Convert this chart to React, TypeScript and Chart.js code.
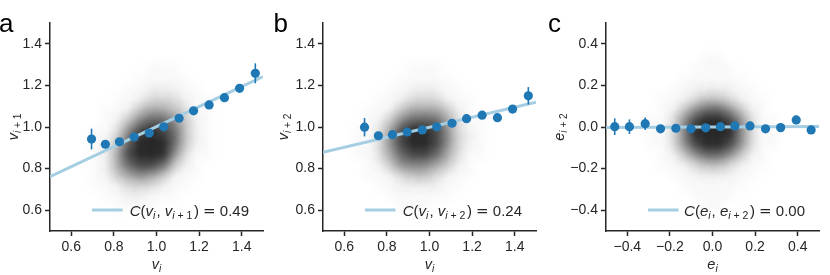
import React, { useEffect, useRef } from 'react';
import { Chart, registerables } from 'chart.js';
Chart.register(...registerables);

// ---------------- data ----------------
const vTicks = [0.6, 0.8, 1.0, 1.2, 1.4];
const eTicks = [-0.4, -0.2, 0.0, 0.2, 0.4];

// binned means (panels a, b share the same v bins)
const vBins = [0.695, 0.76, 0.826, 0.895, 0.966, 1.034, 1.106, 1.174, 1.247, 1.319, 1.39, 1.464];
const meanA = [0.942, 0.917, 0.929, 0.952, 0.971, 1.001, 1.042, 1.078, 1.106, 1.141, 1.186, 1.258];
const errA = [0.05, 0.012, 0.008, 0.006, 0.006, 0.006, 0.007, 0.009, 0.011, 0.014, 0.018, 0.048];
const fitA = [0.761, 1.242]; // fit line at x = 0.5 and x = 1.5

const meanB = [0.999, 0.958, 0.963, 0.976, 0.986, 1.001, 1.018, 1.04, 1.057, 1.045, 1.086, 1.15];
const errB = [0.044, 0.012, 0.008, 0.006, 0.006, 0.006, 0.007, 0.009, 0.011, 0.014, 0.018, 0.042];
const fitB = [0.878, 1.119];

const eBins = [-0.459, -0.39, -0.316, -0.244, -0.172, -0.101, -0.032, 0.037, 0.105, 0.176, 0.249, 0.32, 0.393, 0.463];
const meanC = [0.0015, 0.0015, 0.016, -0.009, -0.006, -0.009, -0.004, 0.0015, 0.005, 0.005, -0.009, -0.003, 0.034, -0.014];
const errC = [0.04, 0.035, 0.03, 0.01, 0.008, 0.006, 0.005, 0.005, 0.006, 0.008, 0.01, 0.012, 0.02, 0.012];
const fitC = [-0.002, 0.002];

// density of the grey scatter cloud, 0 (empty) .. 9 (black), cells of 0.05
const cloudCell = 0.05;
const cloudA_x0 = 0.625, cloudA_y0 = 1.275;
const cloudA = [
  '000000011100000',
  '000000111110000',
  '000001122211000',
  '000011233321100',
  '000112455431100',
  '000124677642100',
  '001136898742100',
  '001247999742100',
  '001258999631100',
  '001257887421000',
  '001245654211000',
  '001123332110000',
  '000112211100000',
  '000011110000000',
];
const cloudB_x0 = 0.625, cloudB_y0 = 1.275;
const cloudB = [
  '000000111000000',
  '000001111100000',
  '000011222110000',
  '000112333211000',
  '001124555421000',
  '001246777531100',
  '011358998632100',
  '011368998632100',
  '011357887531100',
  '001246665421000',
  '001123443211000',
  '000112222110000',
  '000011111100000',
  '000001110000000',
];
const cloudC_x0 = -0.325, cloudC_y0 = 0.325;
const cloudC = [
  '00000011000000',
  '00000111100000',
  '00001111110000',
  '00011222211000',
  '00112344321100',
  '00124677642100',
  '01136899863110',
  '01136999963110',
  '01136899863110',
  '00124677642100',
  '00112344321100',
  '00011222211000',
  '00001111110000',
  '00000111100000',
  '00000011000000',
];

// ---------------- styles ----------------
const BLUE = '#1f77b4';
const LIGHT = '#a6cee3';
const INK = '#262626';
const FONT = '"Liberation Sans", Arial, sans-serif';
const LEVEL_ALPHA = [0, 0.02, 0.045, 0.085, 0.135, 0.195, 0.27, 0.37, 0.49, 0.63];

type Seg = { t: string; it?: boolean; sub?: boolean; f?: string; gap?: number };

function segFont(s: Seg, size: number) {
  const sz = s.sub ? size * 0.7 : size;
  return `${s.it ? 'italic ' : ''}${sz}px ${s.f ?? FONT}`;
}
function richWidth(ctx: CanvasRenderingContext2D, segs: Seg[], size: number) {
  let w = 0;
  for (const s of segs) {
    ctx.font = segFont(s, size);
    w += ctx.measureText(s.t).width + (s.gap ?? 0);
  }
  return w;
}
function drawRich(ctx: CanvasRenderingContext2D, segs: Seg[], x: number, y: number, size: number, align: 'left' | 'center' | 'right') {
  const w = richWidth(ctx, segs, size);
  let cx = align === 'left' ? x : align === 'center' ? x - w / 2 : x - w;
  ctx.textAlign = 'left';
  ctx.textBaseline = 'alphabetic';
  for (const s of segs) {
    ctx.font = segFont(s, size);
    ctx.fillText(s.t, cx, y + (s.sub ? size * 0.22 : 0));
    cx += ctx.measureText(s.t).width + (s.gap ?? 0);
  }
  return w;
}

function makeSprite(alpha: number) {
  const R = 18;
  const c = document.createElement('canvas');
  c.width = 2 * R;
  c.height = 2 * R;
  const g = c.getContext('2d')!;
  const grad = g.createRadialGradient(R, R, 0, R, R, R);
  const stops = [0, 0.125, 0.25, 0.375, 0.5, 0.625, 0.75, 0.875, 1];
  for (const s of stops) {
    const r = s * R;
    const k = Math.exp(-(r * r) / (2 * 7.5 * 7.5)) * (1 - s * s * s);
    grad.addColorStop(s, `rgba(0,0,0,${alpha * k})`);
  }
  g.fillStyle = grad;
  g.fillRect(0, 0, 2 * R, 2 * R);
  return c;
}

const fmt = (v: number) => (v < -1e-9 ? '\u2212' : '') + Math.abs(v).toFixed(1);

const v = (s: string): Seg[] => [{ t: 'v', it: true }, { t: s, it: true, sub: true }];

type PanelCfg = {
  letter: string;
  canvasLeft: number;
  yW: number;
  xs: number[];
  ys: number[];
  errs: number[];
  fit: number[];
  range: [number, number];
  ticks: number[];
  cloud: string[];
  cx0: number;
  cy0: number;
  letterX: number;
  yTitleOffset: number;
  xTitle: Seg[];
  yTitle: Seg[];
  legend: Seg[];
};

const PLOT_W = 213;
const RIGHT_PAD = 6;
const H = 275;

function Panel({ cfg }: { cfg: PanelCfg }) {
  const ref = useRef<HTMLCanvasElement>(null);
  const width = cfg.yW + PLOT_W + RIGHT_PAD;
  useEffect(() => {
    const canvas = ref.current!;
    const sprites = LEVEL_ALPHA.map((a) => makeSprite(a));
    const cloudPts: any[] = [];
    cfg.cloud.forEach((row, r) => {
      for (let c = 0; c < row.length; c++) {
        const lv = +row[c];
        if (lv > 0) cloudPts.push({ x: cfg.cx0 + c * cloudCell, y: cfg.cy0 - r * cloudCell, level: lv });
      }
    });

    const deco = {
      id: 'deco',
      beforeDatasetDraw(chart: any, args: any) {
        if (args.index !== 0) return;
        const ctx: CanvasRenderingContext2D = chart.ctx;
        const xs = chart.scales.x, ys = chart.scales.y;
        ctx.save();
        ctx.strokeStyle = BLUE;
        ctx.lineWidth = 1.6;
        cfg.xs.forEach((x, i) => {
          const px = xs.getPixelForValue(x);
          ctx.beginPath();
          ctx.moveTo(px, ys.getPixelForValue(cfg.ys[i] - cfg.errs[i]));
          ctx.lineTo(px, ys.getPixelForValue(cfg.ys[i] + cfg.errs[i]));
          ctx.stroke();
        });
        ctx.restore();
      },
      afterDraw(chart: any) {
        const ctx: CanvasRenderingContext2D = chart.ctx;
        const a = chart.chartArea;
        ctx.save();
        ctx.fillStyle = '#000';
        ctx.font = `26px ${FONT}`;
        ctx.textAlign = 'left';
        ctx.textBaseline = 'alphabetic';
        ctx.fillText(cfg.letter, cfg.letterX - cfg.canvasLeft, 32);

        ctx.fillStyle = INK;
        drawRich(ctx, cfg.xTitle, (a.left + a.right) / 2, 268.5, 14.5, 'center');

        ctx.save();
        ctx.translate(a.left - cfg.yTitleOffset, (a.top + a.bottom) / 2);
        ctx.rotate(-Math.PI / 2);
        drawRich(ctx, cfg.yTitle, 0, 0, 14.5, 'center');
        ctx.restore();

        // legend
        ctx.strokeStyle = LIGHT;
        ctx.lineWidth = 3;
        ctx.beginPath();
        ctx.moveTo(a.right - 171, 210);
        ctx.lineTo(a.right - 140.5, 210);
        ctx.stroke();
        ctx.fillStyle = INK;
        drawRich(ctx, cfg.legend, a.right - 14, 216, 15, 'right');
        ctx.restore();
      },
    };

    const axisCommon = (ticks: number[], range: [number, number]) => ({
      type: 'linear' as const,
      min: range[0],
      max: range[1],
      afterBuildTicks: (s: any) => {
        s.ticks = ticks.map((t) => ({ value: t }));
      },
      grid: {
        display: true,
        drawOnChartArea: false,
        drawTicks: true,
        tickLength: 5,
        tickWidth: 1.5,
        tickColor: INK,
      },
      border: { display: true, color: INK, width: 1.5 },
      ticks: {
        color: INK,
        font: { family: '"Liberation Sans", Arial, sans-serif', size: 14 },
        padding: 3,
        maxRotation: 0,
        autoSkip: false,
        callback: (val: any) => fmt(Number(val)),
      },
    });

    const chart = new Chart(canvas, {
      type: 'scatter',
      data: {
        datasets: [
          {
            data: cfg.xs.map((x, i) => ({ x, y: cfg.ys[i] })),
            pointRadius: 4.6,
            backgroundColor: BLUE,
            borderWidth: 0,
            order: 0,
          } as any,
          {
            data: [
              { x: cfg.range[0], y: cfg.fit[0] },
              { x: cfg.range[1], y: cfg.fit[1] },
            ],
            showLine: true,
            borderColor: LIGHT,
            borderWidth: 3,
            pointRadius: 0,
            order: 1,
          } as any,
          {
            data: cloudPts,
            pointRadius: 1,
            borderWidth: 0,
            backgroundColor: 'rgba(0,0,0,0)',
            pointStyle: (c: any) => (c.raw && c.raw.level ? sprites[c.raw.level] : 'circle'),
            order: 2,
          } as any,
        ],
      },
      options: {
        responsive: false,
        animation: false,
        events: [],
        layout: { padding: { left: 0, right: RIGHT_PAD, top: 23, bottom: 0 } },
        plugins: { legend: { display: false }, tooltip: { enabled: false } },
        scales: {
          x: { ...axisCommon(cfg.ticks, cfg.range), position: 'bottom', afterFit: (s: any) => { s.height = H - 231; } } as any,
          y: { ...axisCommon(cfg.ticks, cfg.range), position: 'left', afterFit: (s: any) => { s.width = cfg.yW; } } as any,
        },
      },
      plugins: [deco],
    });
    return () => chart.destroy();
  }, []);
  return (
    <canvas
      ref={ref}
      width={width}
      height={H}
      style={{ position: 'absolute', left: cfg.canvasLeft, top: 0, width, height: H }}
    />
  );
}

const legendSegs = (a: Seg[], b: Seg[], val: string): Seg[] => [
  { t: 'C', it: true },
  { t: '(' },
  ...a,
  { t: ', ' },
  ...b,
  { t: ')', gap: 0 },
  { t: ' ' },
  { t: '=', f: '"DejaVu Sans", sans-serif' },
  { t: ' ' },
  { t: val },
];

const panels: PanelCfg[] = [
  {
    letter: 'a', canvasLeft: 0, yW: 50, xs: vBins, ys: meanA, errs: errA, fit: fitA,
    range: [0.5, 1.5], ticks: vTicks, cloud: cloudA, cx0: cloudA_x0, cy0: cloudA_y0,
    letterX: -1, yTitleOffset: 32,
    xTitle: v('i'),
    yTitle: [{ t: 'v', it: true }, { t: 'i', it: true, sub: true }, { t: ' + 1', sub: true }],
    legend: legendSegs(
      [{ t: 'v', it: true }, { t: 'i', it: true, sub: true, gap: 1 }],
      [{ t: 'v', it: true }, { t: 'i', it: true, sub: true }, { t: ' + 1', sub: true, gap: 1.5 }],
      '0.49'
    ),
  },
  {
    letter: 'b', canvasLeft: 270, yW: 53, xs: vBins, ys: meanB, errs: errB, fit: fitB,
    range: [0.5, 1.5], ticks: vTicks, cloud: cloudB, cx0: cloudB_x0, cy0: cloudB_y0,
    letterX: 273.5, yTitleOffset: 35,
    xTitle: v('i'),
    yTitle: [{ t: 'v', it: true }, { t: 'i', it: true, sub: true }, { t: ' + 2', sub: true }],
    legend: legendSegs(
      [{ t: 'v', it: true }, { t: 'i', it: true, sub: true, gap: 1 }],
      [{ t: 'v', it: true }, { t: 'i', it: true, sub: true }, { t: ' + 2', sub: true, gap: 1.5 }],
      '0.24'
    ),
  },
  {
    letter: 'c', canvasLeft: 544, yW: 62, xs: eBins, ys: meanC, errs: errC, fit: fitC,
    range: [-0.5, 0.5], ticks: eTicks, cloud: cloudC, cx0: cloudC_x0, cy0: cloudC_y0,
    letterX: 548, yTitleOffset: 42.5,
    xTitle: [{ t: 'e', it: true }, { t: 'i', it: true, sub: true }],
    yTitle: [{ t: 'e', it: true }, { t: 'i', it: true, sub: true }, { t: ' + 2', sub: true }],
    legend: legendSegs(
      [{ t: 'e', it: true }, { t: 'i', it: true, sub: true, gap: 1 }],
      [{ t: 'e', it: true }, { t: 'i', it: true, sub: true }, { t: ' + 2', sub: true, gap: 1.5 }],
      '0.00'
    ),
  },
];

export default function App() {
  return (
    <div style={{ position: 'absolute', left: 0, top: 0, width: 830, height: 275, background: '#fff', overflow: 'hidden' }}>
      {panels.map((p) => (
        <Panel key={p.letter} cfg={p} />
      ))}
    </div>
  );
}
